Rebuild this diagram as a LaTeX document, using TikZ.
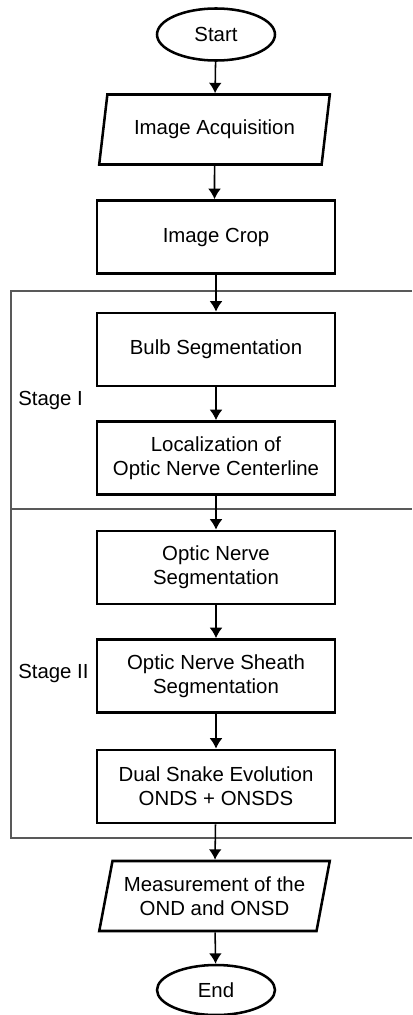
\documentclass[tikz,border=0pt]{standalone}
\usepackage{fontspec}
\setmainfont{Liberation Sans}
\usetikzlibrary{shapes.geometric,arrows.meta}
\begin{document}
\begin{tikzpicture}[every node/.style={font=\fontsize{14.5}{17}\selectfont,align=center,
                      line width=1.8pt,inner sep=1pt},
                    term/.style={draw,ellipse,minimum width=2.95cm,minimum height=1.3cm},
                    io/.style={draw,trapezium,trapezium left angle=74,trapezium right angle=106,
                      trapezium stretches=true,minimum width=5.775cm,minimum height=1.75cm},
                    proc/.style={draw,rectangle,minimum width=5.95cm,minimum height=1.83cm},
                    arr/.style={line width=1.1pt,-{Latex[length=2.6mm,width=3.2mm]}},
                    stageline/.style={line width=0.8pt,draw=black!65}]
                  \useasboundingbox (0,0) rectangle (10.3,-25.375);
                  \node[term] (start) at (5.4,-0.8625) {Start};
                  \node[io] (acq) at (5.3625,-3.2375) {Image Acquisition};
                  \node[proc] (crop) at (5.4,-5.925) {Image Crop};
                  \node[proc] (bulb) at (5.4,-8.7375) {Bulb Segmentation};
                  \node[proc] (loc) at (5.4,-11.45) {Localization of\\Optic Nerve Centerline};
                  \node[proc] (ons) at (5.4,-14.1875) {Optic Nerve\\Segmentation};
                  \node[proc] (onss) at (5.4,-16.9) {Optic Nerve Sheath\\Segmentation};
                  \node[proc] (snake) at (5.4,-19.6625) {Dual Snake Evolution\\ONDS + ONSDS};
                  \node[io] (meas) at (5.3625,-22.4) {Measurement of the\\OND and ONSD};
                  \node[term,minimum height=1.25cm] (end) at (5.4,-24.75) {End};
                  \node[anchor=west,inner sep=0pt] (st1) at (0.425,-10.0) {Stage I};
                  \node[anchor=west,inner sep=0pt] (st2) at (0.425,-16.825) {Stage II};
                  % stage frames
                  \draw[stageline] (10.3,-7.275) -| (0.275,-20.95) -- (10.3,-20.95);
                  \draw[stageline] (0.275,-12.725) -- (10.3,-12.725);
                  \draw[arr] (start) -- (acq);
                  \draw[arr] (acq) -- (acq.south |- crop.north);
                  \draw[arr] (crop) -- (bulb);
                  \draw[arr] (bulb) -- (loc);
                  \draw[arr] (loc) -- (ons);
                  \draw[arr] (ons) -- (onss);
                  \draw[arr] (onss) -- (snake);
                  \draw[arr] (snake) -- (meas);
                  \draw[arr] (meas) -- (end);
              \end{tikzpicture}
\end{document}
